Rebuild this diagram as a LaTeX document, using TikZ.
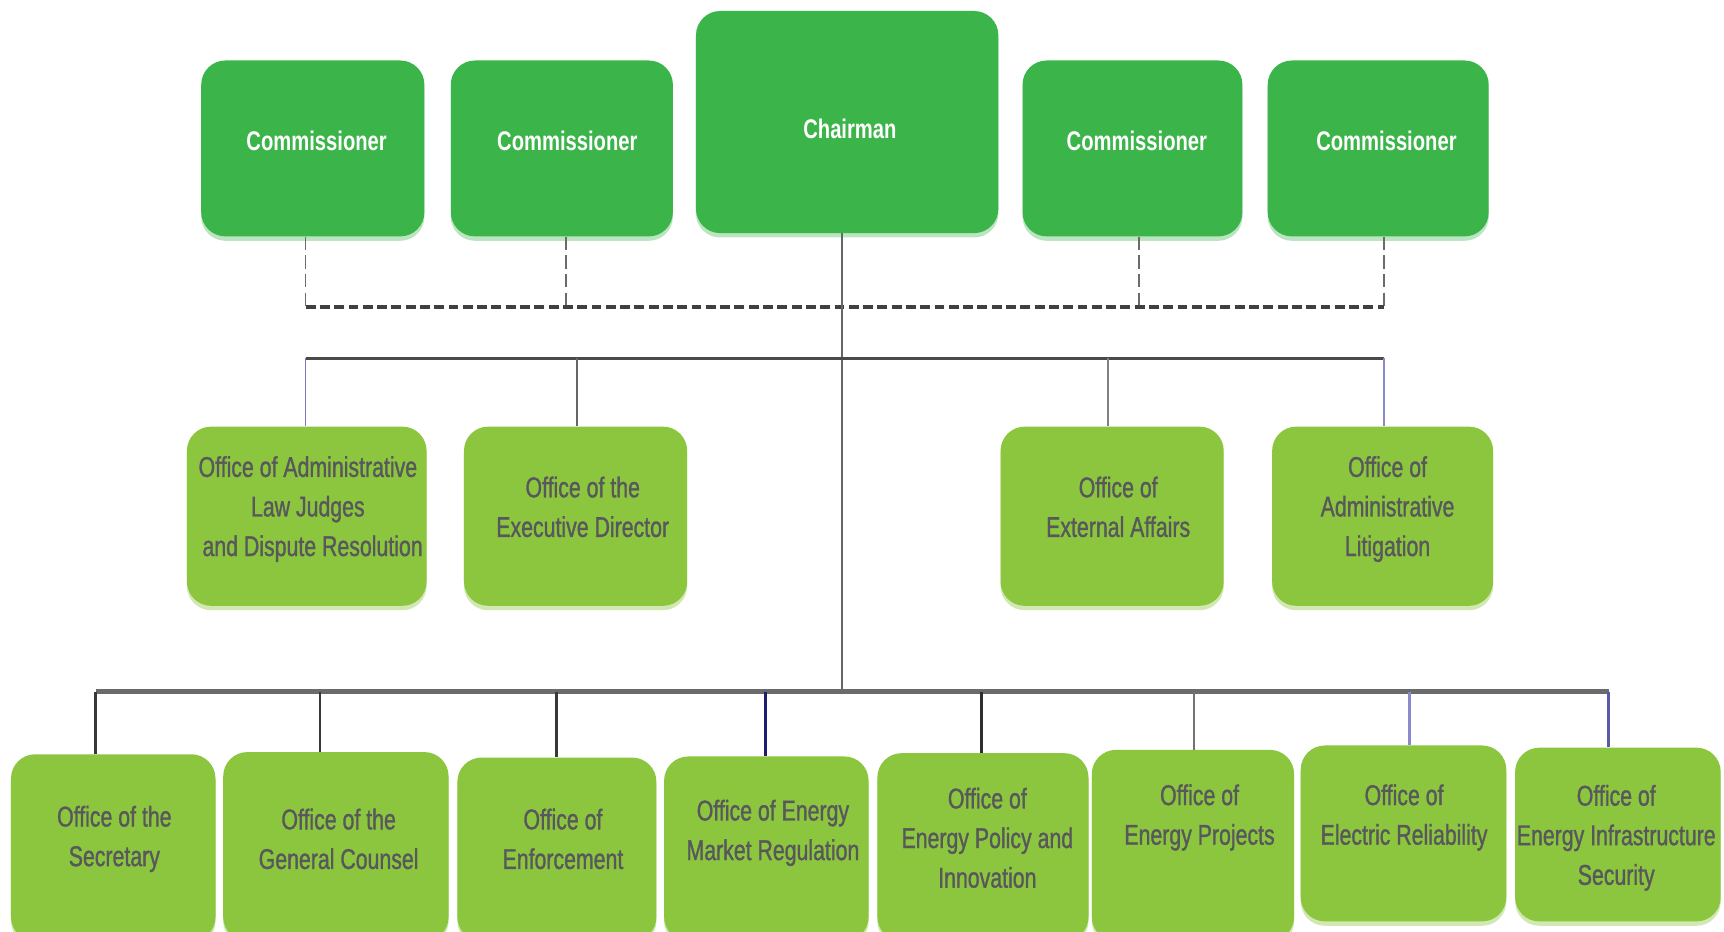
\documentclass[tikz,border=0pt]{standalone}
\usepackage{fontspec}
\setmainfont{Liberation Sans}[FakeStretch=0.75]
\newfontfamily\offfont{Liberation Sans}[FakeStretch=0.745, FakeBold=1.1]
\usetikzlibrary{shadows}
\definecolor{dkgreen}{HTML}{3BB54A}
\definecolor{ltgreen}{HTML}{8CC63F}
\definecolor{txtgray}{HTML}{58585C}
\definecolor{barcol}{HTML}{4A4A4A}
\definecolor{navy}{HTML}{1E1E70}
\definecolor{lblue}{HTML}{8A8ACC}
\definecolor{mblue}{HTML}{5A5AA8}
\tikzset{
  topbox/.style={rectangle, rounded corners=22pt, fill=dkgreen, draw=none,
    drop shadow={shadow xshift=0pt, shadow yshift=-4pt, fill=dkgreen!35, opacity=1}},
  offbox/.style={rectangle, rounded corners=22pt, fill=ltgreen, draw=none,
    drop shadow={shadow xshift=0pt, shadow yshift=-4pt, fill=ltgreen!40, opacity=1}},
  toptxt/.style={text=white, font=\fontsize{24.5}{34}\selectfont\bfseries, inner sep=0pt},
  offtxt/.style={text=txtgray, font=\offfont\fontsize{26}{36}\selectfont, align=center, inner sep=0pt},
  dashv/.style={draw=black!58, line width=1.5pt, dash pattern=on 12pt off 5pt},
  dashh/.style={draw=black!75, line width=3.5pt, dash pattern=on 9pt off 4pt},
  bar/.style={draw=barcol, line width=3.5pt},
  drop/.style={line width=2.5pt}
}
\begin{document}
\begin{tikzpicture}[x=1pt,y=-1pt]
\useasboundingbox (0,0) rectangle (1568,847);
\clip (0,0) rectangle (1568,847);
\fill[white] (0,0) rectangle (1568,847);

% top row
\node[topbox, minimum width=203pt, minimum height=160pt] (c1) at (284.5,135) {};
\node[topbox, minimum width=202pt, minimum height=160pt] (c2) at (511,135) {};
\node[topbox, minimum width=275pt, minimum height=202pt] (ch) at (770.5,111) {};
\node[topbox, minimum width=200pt, minimum height=160pt] (c3) at (1030,135) {};
\node[topbox, minimum width=201pt, minimum height=160pt] (c4) at (1253.5,135) {};
\node[toptxt] (c1t) at (288,128) {Commissioner};
\node[toptxt] (c2t) at (516,128) {Commissioner};
\node[toptxt] (cht) at (773,117) {Chairman};
\node[toptxt] (c3t) at (1034,128) {Commissioner};
\node[toptxt] (c4t) at (1261,128) {Commissioner};

% middle row
\node[offbox, minimum width=218pt, minimum height=163pt] (m1) at (279,469.5) {};
\node[offbox, minimum width=203pt, minimum height=163pt] (m2) at (523.5,469.5) {};
\node[offbox, minimum width=203pt, minimum height=163pt] (m3) at (1011.5,469.5) {};
\node[offbox, minimum width=201pt, minimum height=163pt] (m4) at (1257.5,469.5) {};
\node[offtxt] (m1t) at (280,463) {Office of Administrative\\Law Judges\\\,\,and Dispute Resolution};
\node[offtxt] (m2t) at (530,461) {Office of the\\Executive Director};
\node[offtxt] (m3t) at (1017,461) {Office of\\External Affairs};
\node[offtxt] (m4t) at (1262,463) {Office of\\Administrative\\Litigation};

% bottom row
\node[offbox, minimum width=186pt, minimum height=170pt] (b1) at (103,771) {};
\node[offbox, minimum width=205pt, minimum height=172pt] (b2) at (305.5,770) {};
\node[offbox, minimum width=181pt, minimum height=167pt] (b3) at (506.5,772.5) {};
\node[offbox, minimum width=186pt, minimum height=168pt] (b4) at (697,772) {};
\node[offbox, minimum width=192pt, minimum height=171pt] (b5) at (894,770.5) {};
\node[offbox, minimum width=184pt, minimum height=174pt] (b6) at (1085,769) {};
\node[offbox, minimum width=187pt, minimum height=160pt] (b7) at (1276.5,758) {};
\node[offbox, minimum width=187pt, minimum height=158pt] (b8) at (1471.5,759) {};
\node[offtxt] (b1t) at (104,763) {Office of the\\Secretary};
\node[offtxt] (b2t) at (308,763) {Office of the\\General Counsel};
\node[offtxt] (b3t) at (512,763) {Office of\\Enforcement};
\node[offtxt] (b4t) at (703,757.5) {Office of Energy\\Market Regulation};
\node[offtxt] (b5t) at (898,762) {Office of\\Energy Policy and\\Innovation};
\node[offtxt] (b6t) at (1091,743.5) {Office of\\Energy Projects};
\node[offtxt] (b7t) at (1277,743.5) {Office of\\Electric Reliability};
\node[offtxt] (b8t) at (1470,762) {Office of\\Energy Infrastructure\\Security};

% junction coordinates
\coordinate (d1) at (278,279);
\coordinate (d2) at (515,279);
\coordinate (d3) at (1036,279);
\coordinate (d4) at (1259,279);
\coordinate (h1) at (278,326);
\coordinate (h2) at (525,326);
\coordinate (hc) at (766,326);
\coordinate (h3) at (1008,326);
\coordinate (h4) at (1259,326);
\coordinate (bc) at (766,629);
\coordinate (t1) at (87,629);
\coordinate (t2) at (291,629);
\coordinate (t3) at (506,629);
\coordinate (t4) at (696,629);
\coordinate (t5) at (893,629);
\coordinate (t6) at (1086,629);
\coordinate (t7) at (1282,629);
\coordinate (t8) at (1463,629);

% dashed commissioner links
\draw[dashv] (c1.south -| d1) -- (d1);
\draw[dashv] (c2.south -| d2) -- (d2);
\draw[dashv] (c3.south -| d3) -- (d3);
\draw[dashv] (c4.south -| d4) -- (d4);
\draw[dashh] (d1) -- (d4);

% chairman trunk
\draw[draw=black!60, line width=2pt] (ch.south -| bc) -- (bc);

% middle bar and drops
\draw[bar] (h1) -- (h4);
\draw[draw=mblue!80, line width=1.5pt] (h1) -- (h1 |- m1.north);
\draw[draw=black!60, line width=2pt] (h2) -- (h2 |- m2.north);
\draw[draw=black!50, line width=2pt] (h3) -- (h3 |- m3.north);
\draw[draw=lblue, line width=1.5pt] (h4) -- (h4 |- m4.north);

% bottom bar and drops
\draw[draw=black!58, line width=4pt] (t1) -- (t8);
\draw[draw=black!78, drop] (t1) -- (t1 |- b1.north);
\draw[draw=black!78, drop] (t2) -- (t2 |- b2.north);
\draw[draw=black!78, drop] (t3) -- (t3 |- b3.north);
\draw[draw=navy, drop] (t4) -- (t4 |- b4.north);
\draw[draw=black!82, drop] (t5) -- (t5 |- b5.north);
\draw[draw=black!55, line width=2pt] (t6) -- (t6 |- b6.north);
\draw[draw=lblue, line width=2pt] (t7) -- (t7 |- b7.north);
\draw[draw=mblue, line width=2pt] (t8) -- (t8 |- b8.north);
\end{tikzpicture}
\end{document}
